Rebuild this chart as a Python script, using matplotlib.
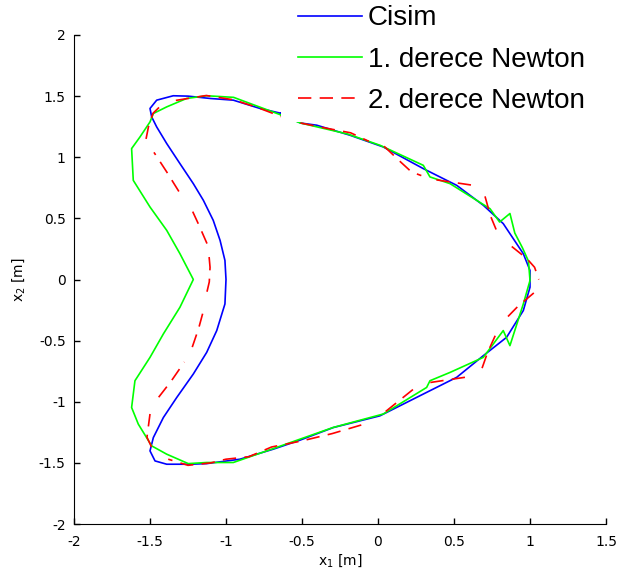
import numpy as np
import matplotlib
matplotlib.use("Agg")
import matplotlib.pyplot as plt
from matplotlib.patches import Rectangle

# Cisim (object) contour
cisim_x = [-0.64, -0.776, -0.952, -1.105, -1.25, -1.347, -1.456, -1.5, -1.489, -1.456,
           -1.39, -1.303, -1.215, -1.149, -1.084, -1.039, -1.007, -1.0, -1.007, -1.061,
           -1.127, -1.215, -1.324, -1.412, -1.478, -1.5, -1.467, -1.39, -1.237, -1.127,
           -0.908, -0.689, -0.513, -0.294, 0.013, 0.298, 0.518, 0.693, 0.846, 0.956,
           1.0, 1.0, 0.956, 0.824, 0.693, 0.518, 0.298, 0.035, -0.184, -0.403, -0.51, -0.64]
cisim_y = [1.36, 1.399, 1.467, 1.481, 1.50, 1.503, 1.467, 1.399, 1.33, 1.248,
           1.112, 0.948, 0.784, 0.648, 0.484, 0.32, 0.156, 0.0, -0.2, -0.418,
           -0.596, -0.773, -0.965, -1.129, -1.293, -1.402, -1.484, -1.511, -1.511, -1.506,
           -1.47, -1.388, -1.314, -1.211, -1.115, -0.937, -0.8, -0.623, -0.473, -0.254,
           -0.063, 0.074, 0.211, 0.457, 0.607, 0.77, 0.907, 1.084, 1.18, 1.262, 1.28, 1.36]

# 1. derece Newton
newton1_x = [-0.634, -0.842, -0.95, -1.127, -1.259, -1.39, -1.478, -1.5, -1.566, -1.621,
             -1.61, -1.5, -1.39, -1.303, -1.215, -1.303, -1.412, -1.5, -1.599, -1.621,
             -1.577, -1.489, -1.39, -1.248, -1.127, -0.952, -0.732, -0.513, -0.294, 0.035,
             0.32, 0.342, 0.474, 0.693, 0.824, 0.868, 0.956, 1.0, 0.99, 0.95,
             0.90, 0.868, 0.80, 0.737, 0.474, 0.342, 0.298, 0.013, -0.2, -0.513, -0.634]
newton1_y = [1.344, 1.44, 1.49, 1.503, 1.481, 1.412, 1.358, 1.289, 1.166, 1.071,
             0.811, 0.593, 0.402, 0.211, 0.0, -0.227, -0.445, -0.637, -0.828, -1.047,
             -1.183, -1.361, -1.429, -1.506, -1.497, -1.497, -1.402, -1.306, -1.21, -1.1,
             -0.883, -0.828, -0.76, -0.637, -0.418, -0.541, -0.2, -0.008, 0.15, 0.26,
             0.38, 0.54, 0.47, 0.579, 0.784, 0.839, 0.934, 1.098, 1.19, 1.281, 1.344]

# 2. derece Newton (separate predicted pieces, nan = break)
nan = np.nan
newton2_x = [-1.526, -1.51, -1.48, -1.43, nan,
             -1.33, -1.13, -0.95, -0.8, -0.63, nan,
             -0.51, -0.35, -0.18, -0.06, nan,
             0.04, 0.15, 0.22, 0.285, nan,
             0.384, 0.628, nan,
             0.704, 0.74, 0.79, nan,
             0.88, 0.98, 1.03, 1.058, nan,
             1.025, 0.92, 0.826, nan,
             0.771, 0.72, 0.672, nan,
             0.572, 0.33, nan,
             0.23, 0.1, 0.01, nan,
             -0.11, -0.3, -0.5, -0.7, -0.85, -1.0, -1.1, -1.25, -1.38, nan,
             -1.49, -1.52, -1.5, nan,
             -1.443, -1.36, -1.274, nan,
             -1.222, -1.18, -1.144, nan,
             -1.125, -1.11, -1.105, -1.111, nan,
             -1.125, -1.18, -1.239, nan,
             -1.31, -1.39, -1.474]
newton2_y = [1.15, 1.25, 1.36, 1.42, nan,
             1.465, 1.505, 1.47, 1.41, 1.33, nan,
             1.28, 1.24, 1.2, 1.13, nan,
             1.09, 0.96, 0.88, 0.85, nan,
             0.815, 0.77, nan,
             0.68, 0.52, 0.37, nan,
             0.27, 0.17, 0.1, 0.0, nan,
             -0.11, -0.22, -0.34, nan,
             -0.46, -0.6, -0.77, nan,
             -0.80, -0.845, nan,
             -0.9, -1.03, -1.12, nan,
             -1.19, -1.26, -1.32, -1.37, -1.45, -1.47, -1.5, -1.52, -1.47, nan,
             -1.37, -1.29, -1.1, nan,
             -0.963, -0.83, -0.675, nan,
             -0.553, -0.4, -0.235, nan,
             -0.1, -0.02, 0.1, 0.184, nan,
             0.294, 0.45, 0.609, nan,
             0.72, 0.88, 1.04]

xticks = [-2, -1.5, -1, -0.5, 0, 0.5, 1, 1.5]
xticklabels = ['-2', '-1.5', '-1', '-0.5', '0', '0.5', '1', '1.5']
yticks = [-2, -1.5, -1, -0.5, 0, 0.5, 1, 1.5, 2]
yticklabels = ['-2', '-1.5', '-1', '-0.5', '0', '0.5', '1', '1.5', '2']

fig = plt.figure(figsize=(6.19, 5.83), dpi=100)
ax = fig.add_axes([74 / 619, 59 / 583, 532 / 619, 489 / 583])

ax.plot(cisim_x, cisim_y, color=(0, 0, 1), lw=1.2, label='Cisim')
ax.plot(newton1_x, newton1_y, color=(0, 1, 0), lw=1.2, label='1. derece Newton')
ax.plot(newton2_x, newton2_y, color=(1, 0, 0), lw=1.2, dashes=(8, 5),
        label='2. derece Newton')

ax.set_xlim(-2, 1.5)
ax.set_ylim(-2, 2)
ax.set_xticks(xticks)
ax.set_xticklabels(xticklabels)
ax.set_yticks(yticks)
ax.set_yticklabels(yticklabels)
ax.spines['top'].set_visible(False)
ax.spines['right'].set_visible(False)
ax.tick_params(direction='in', length=4, width=1, labelsize=10)
ax.tick_params(axis='x', pad=8)
ax.tick_params(axis='y', pad=6)

ax.set_xlabel('x$_1$ [m]', fontsize=10)
ax.set_ylabel('x$_2$ [m]', fontsize=10)
ax.xaxis.set_label_coords(0.5, -0.058)
ax.yaxis.set_label_coords(-0.088, 0.5)

# white legend background hides the curves underneath
mask = Rectangle((281 / 619, 1 - 122 / 583), 1, 1, transform=fig.transFigure,
                 facecolor='white', edgecolor='none', clip_on=False, zorder=5)
ax.add_patch(mask)

leg = ax.legend(loc='lower left', bbox_to_anchor=(298 / 619, 1 - 114 / 583),
                bbox_transform=fig.transFigure, prop={'family': 'Liberation Sans', 'size': 20},
                frameon=False, borderpad=0, handlelength=2.3, handletextpad=0.22,
                labelspacing=0.55, borderaxespad=0)
leg.set_zorder(10)

fig.savefig('out.png', dpi=100)
